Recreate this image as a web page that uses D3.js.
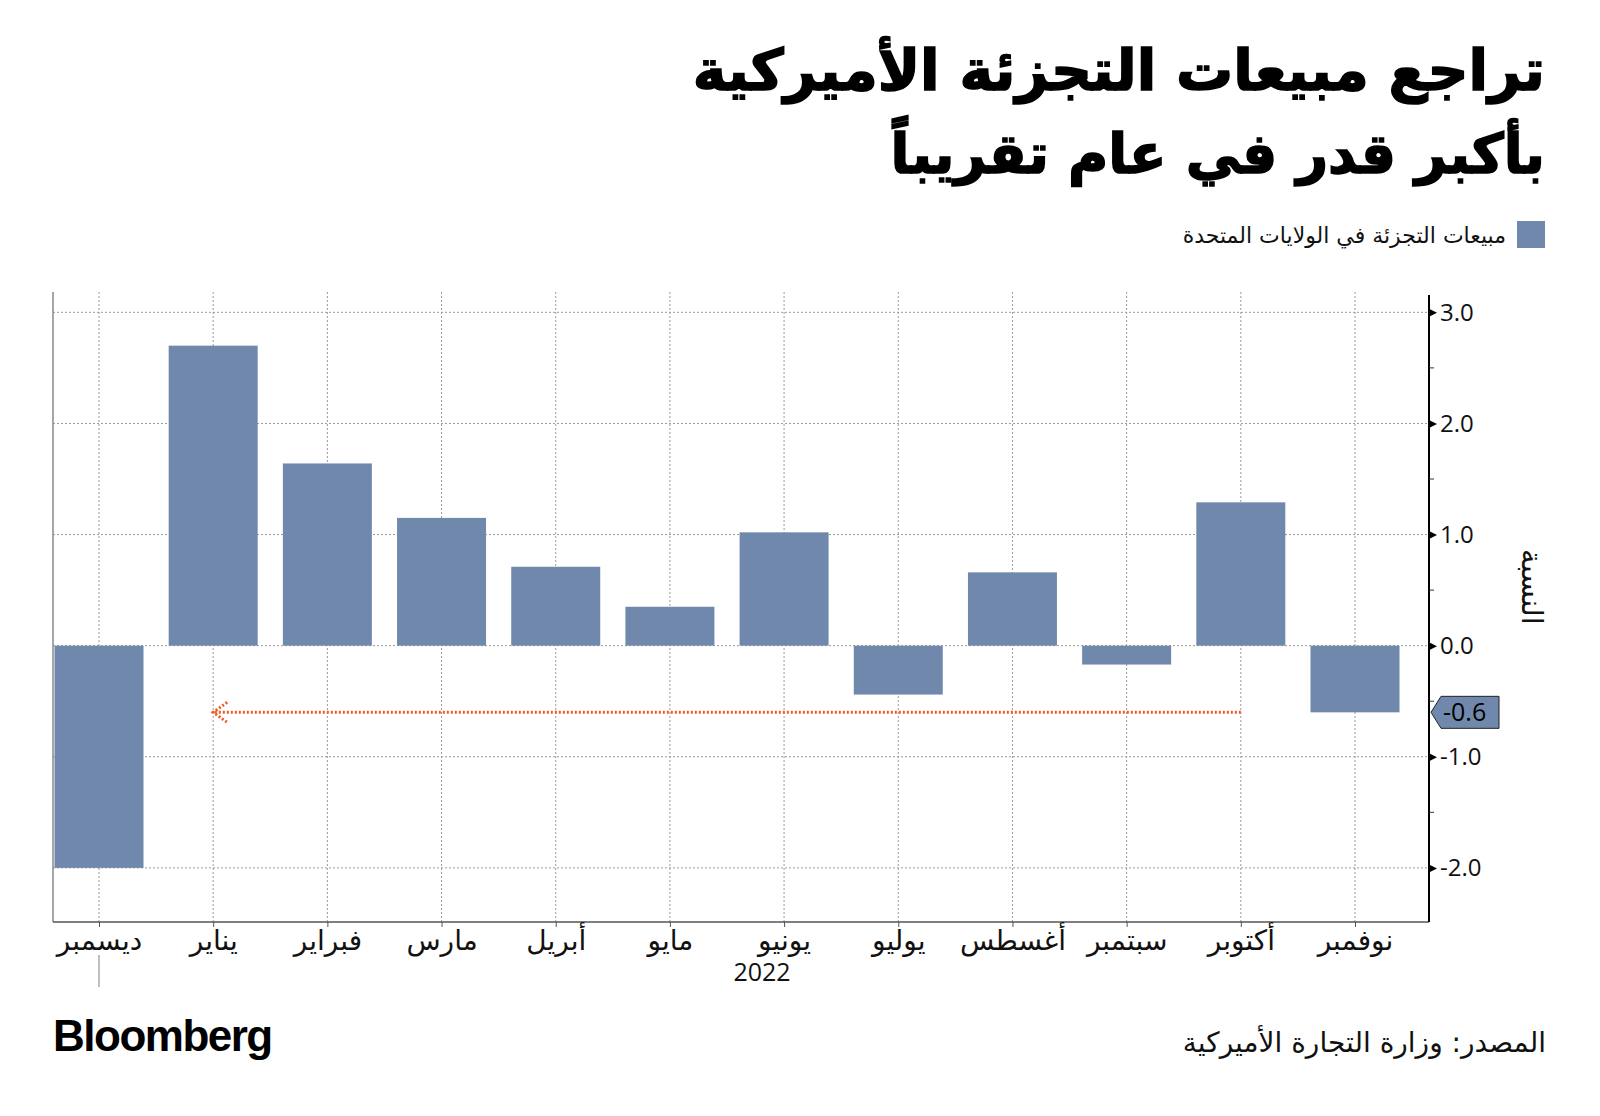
<!DOCTYPE html>
<html lang="ar">
<head>
<meta charset="utf-8">
<script src="https://cdn.jsdelivr.net/npm/d3@7"></script>
<style>
  body { margin: 0; background: #fff; }
  svg { display: block; }
</style>
</head>
<body>
<div id="chart"></div>
<script>
// monthly change of US retail sales, Dec 2021 .. Nov 2022
const months = ["ديسمبر", "يناير", "فبراير", "مارس", "أبريل", "مايو", "يونيو", "يوليو", "أغسطس", "سبتمبر", "أكتوبر", "نوفمبر"];
const salesChange = [-2.0, 2.7, 1.64, 1.15, 0.71, 0.35, 1.02, -0.44, 0.66, -0.17, 1.29, -0.6];
const yTicks = [-2, -1, 0, 1, 2, 3];
const yMinorTicks = [-1.5, -0.5, 0.5, 1.5, 2.5];
const yearLabel = "2022";
const lastLabel = "-0.6";
// arrow goes from October back to January at November's level
const arrowFrom = "أكتوبر";
const arrowTo = "يناير";

const titleLines = ["تراجع مبيعات التجزئة الأميركية", "بأكبر قدر في عام تقريباً"];
const legendLabel = "مبيعات التجزئة في الولايات المتحدة";
const yAxisTitle = "النسبة";
const sourceText = "المصدر: وزارة التجارة الأميركية";

const W = 1600, H = 1116;
const plot = {left: 53, right: 1429, top: 292, bottom: 922};
const barColor = "#7088ac";
const gridColor = "#9a9a9a";
const arabicFont = "'DejaVu Sans', sans-serif";
const numFont = "'Open Sans', 'Noto Sans', sans-serif";

const svg = d3.select("#chart").append("svg")
    .attr("width", W)
    .attr("height", H)
;

// scales
const xScale = d3.scalePoint()
    .domain(months)
    .range([99, 1355]);
const barWidth = 89;
const yScale = d3.scaleLinear()
    .domain([-2.487, 3.183])
    .range([plot.bottom, plot.top]);

// title (heavy)
const titleSizes = [57, 55];
svg.append("g")
    .selectAll("text")
    .data(titleLines)
    .join("text")
    .attr("x", 1545)
    .attr("y", (d, i) => 90 + i * 83)
    .attr("text-anchor", "end")
    .style("font-family", arabicFont)
    .style("font-weight", "bold")
    .style("font-size", (d, i) => titleSizes[i] + "px")
    .style("fill", "#000")
    .style("stroke", "#000")
    .style("stroke-width", "1.6px")
    .text(d => d)
;

// legend
svg.append("rect")
    .attr("x", 1517).attr("y", 221)
    .attr("width", 28).attr("height", 27)
    .attr("fill", barColor)
;
svg.append("text")
    .attr("x", 1506).attr("y", 243)
    .attr("text-anchor", "end")
    .style("font-family", arabicFont)
    .style("font-size", "22px")
    .style("fill", "#111")
    .text(legendLabel)
;

// grid
const grid = svg.append("g").attr("class", "grid");
grid.selectAll(".hGrid")
    .data(yTicks)
    .join("line")
    .attr("class", "hGrid")
    .attr("x1", plot.left).attr("x2", plot.right)
    .attr("y1", d => yScale(d)).attr("y2", d => yScale(d))
    .attr("stroke", gridColor)
    .attr("stroke-width", 1)
    .attr("stroke-dasharray", "2,2")
;
grid.selectAll(".vGrid")
    .data(months)
    .join("line")
    .attr("class", "vGrid")
    .attr("x1", d => xScale(d)).attr("x2", d => xScale(d))
    .attr("y1", plot.top).attr("y2", plot.bottom)
    .attr("stroke", gridColor)
    .attr("stroke-width", 1)
    .attr("stroke-dasharray", "2,2")
;

// bars
svg.append("g")
    .selectAll("rect")
    .data(months.map((m, i) => ({month: m, value: salesChange[i]})))
    .join("rect")
    .attr("x", d => Math.max(plot.left, xScale(d.month) - barWidth / 2))
    .attr("width", d => xScale(d.month) + barWidth / 2 - Math.max(plot.left, xScale(d.month) - barWidth / 2))
    .attr("y", d => yScale(Math.max(0, d.value)))
    .attr("height", d => Math.abs(yScale(d.value) - yScale(0)))
    .attr("fill", barColor)
;

// arrow from October to January at the last value level
const arrowY = yScale(salesChange[salesChange.length - 1]);
const ax0 = xScale(arrowFrom), ax1 = xScale(arrowTo);
const arrowG = svg.append("g")
    .attr("stroke", "#f05a22")
    .attr("stroke-width", 3)
    .attr("stroke-dasharray", "2,2")
    .attr("fill", "none")
;
arrowG.append("line")
    .attr("x1", ax0).attr("x2", ax1)
    .attr("y1", arrowY).attr("y2", arrowY)
;
arrowG.append("path")
    .attr("d", `M${ax1 + 14},${arrowY - 10} L${ax1},${arrowY} L${ax1 + 14},${arrowY + 10}`)
;

// frame lines
svg.append("line")
    .attr("x1", plot.left).attr("x2", plot.left)
    .attr("y1", plot.top).attr("y2", plot.bottom)
    .attr("stroke", "#888").attr("stroke-width", 1.5)
;
svg.append("line")
    .attr("x1", plot.left).attr("x2", plot.right)
    .attr("y1", plot.bottom).attr("y2", plot.bottom)
    .attr("stroke", "#555").attr("stroke-width", 1.5)
;

// x axis labels
const xAxisG = svg.append("g")
    .attr("class", "xAxisG")
    .attr("transform", "translate(0," + plot.bottom + ")")
    .call(d3.axisBottom(xScale).tickSize(5))
;
xAxisG.select(".domain").remove();
xAxisG.selectAll(".tick line").attr("stroke", "#555");
xAxisG.selectAll(".tick text")
    .attr("y", 28)
    .attr("dy", null)
    .style("font-family", arabicFont)
    .style("font-size", "28px")
    .style("fill", "#111")
;

// year label and separator
svg.append("line")
    .attr("x1", xScale(months[0])).attr("x2", xScale(months[0]))
    .attr("y1", 955).attr("y2", 987)
    .attr("stroke", "#aaa").attr("stroke-width", 1.5)
;
svg.append("text")
    .attr("x", 762).attr("y", 981)
    .attr("text-anchor", "middle")
    .style("font-family", numFont)
    .style("font-size", "25px")
    .style("fill", "#111")
    .text(yearLabel)
;

// y axis on the right
svg.append("line")
    .attr("x1", plot.right).attr("x2", plot.right)
    .attr("y1", 295).attr("y2", plot.bottom)
    .attr("stroke", "#000").attr("stroke-width", 2)
;
const yAxisG = svg.append("g")
    .attr("class", "yAxisG")
    .attr("transform", "translate(" + plot.right + ",0)")
    .call(d3.axisRight(yScale).tickValues(yTicks).tickSize(0).tickPadding(11).tickFormat(d => d.toFixed(1)))
;
yAxisG.select(".domain").remove();
yAxisG.selectAll(".tick text")
    .style("font-family", numFont)
    .style("font-size", "24px")
    .style("fill", "#111")
;
yAxisG.selectAll(".tick")
    .append("path")
    .attr("d", "M0,-4 L8,0 L0,4 Z")
    .attr("fill", "#000")
;
yAxisG.selectAll(".minorTick")
    .data(yMinorTicks)
    .join("line")
    .attr("class", "minorTick")
    .attr("x1", 0).attr("x2", 5)
    .attr("y1", d => yScale(d)).attr("y2", d => yScale(d))
    .attr("stroke", "#333")
;

// last value callout
const calloutG = svg.append("g")
    .attr("transform", "translate(" + (plot.right + 2) + "," + arrowY + ")")
;
calloutG.append("path")
    .attr("d", "M0,0 L10,-16 L68,-16 L68,16 L10,16 Z")
    .attr("fill", barColor)
    .attr("stroke", "#222")
    .attr("stroke-width", 1)
;
calloutG.append("text")
    .attr("x", 12).attr("y", 0)
    .attr("dy", "0.36em")
    .style("font-family", numFont)
    .style("font-size", "25px")
    .style("fill", "#000")
    .text(lastLabel)
;

// y axis title, rotated
svg.append("text")
    .attr("transform", "translate(1532,587) rotate(90)")
    .attr("text-anchor", "middle")
    .attr("dy", "0.35em")
    .style("font-family", arabicFont)
    .style("font-size", "29px")
    .style("fill", "#111")
    .text(yAxisTitle)
;

// footer
svg.append("text")
    .attr("x", 53).attr("y", 1051)
    .style("font-family", "'Liberation Sans', Arial, sans-serif")
    .style("font-weight", "bold")
    .style("font-size", "44px")
    .style("letter-spacing", "-1.5px")
    .style("fill", "#000")
    .text("Bloomberg")
;
svg.append("text")
    .attr("x", 1546).attr("y", 1052)
    .attr("text-anchor", "end")
    .style("font-family", arabicFont)
    .style("font-size", "28px")
    .style("fill", "#111")
    .text(sourceText)
;
</script>
</body>
</html>
